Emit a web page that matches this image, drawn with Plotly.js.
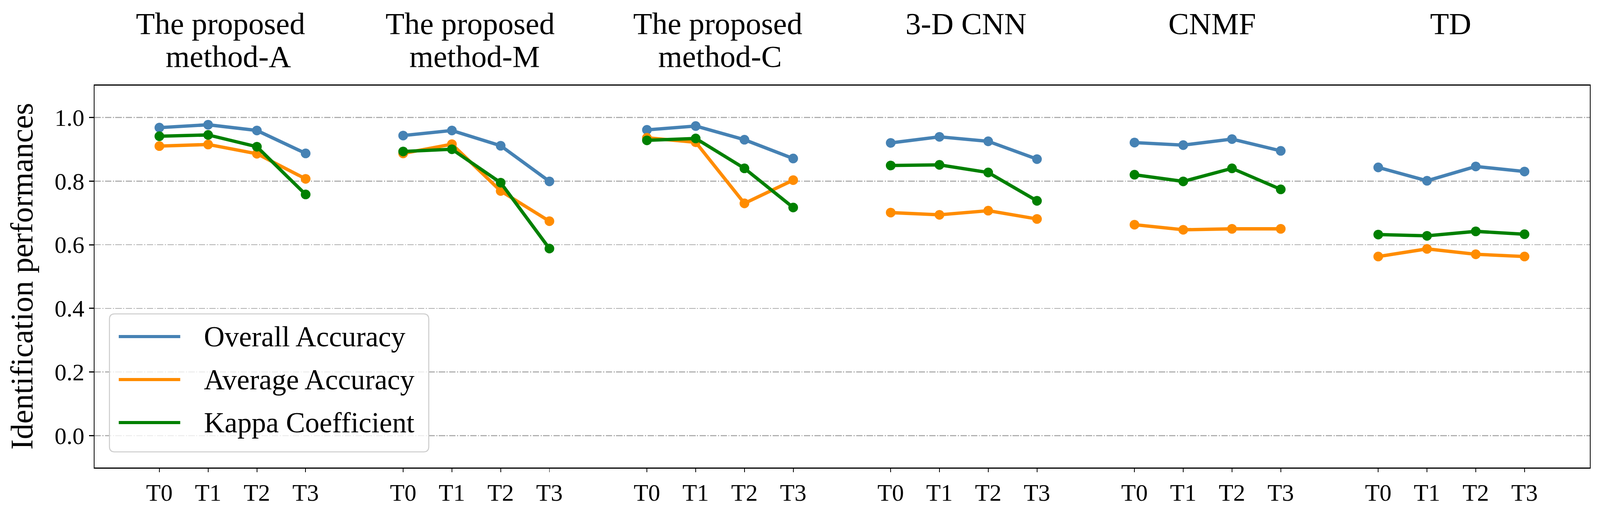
<!DOCTYPE html>
<html>
<head>
<meta charset="utf-8">
<script src="https://cdn.plot.ly/plotly-3.0.1.min.js"></script>
<style>html,body{margin:0;padding:0;background:#fff;overflow:hidden;}#chart{position:absolute;left:0;top:0;}</style>
</head>
<body>
<div id="chart"></div>
<script>
// ---- Data ----
const methods = ["The proposed method-A", "The proposed method-M", "The proposed method-C", "3-D CNN", "CNMF", "TD"];
const periods = ["T0", "T1", "T2", "T3"];
const seriesNames = ["Overall Accuracy", "Average Accuracy", "Kappa Coefficient"];
const overallAccuracy = [
  0.968, 0.977, 0.959, 0.887,
  0.943, 0.959, 0.911, 0.799,
  0.961, 0.973, 0.930, 0.871,
  0.920, 0.939, 0.925, 0.869,
  0.921, 0.913, 0.932, 0.895,
  0.843, 0.801, 0.846, 0.830
];
const averageAccuracy = [
  0.910, 0.915, 0.886, 0.807,
  0.887, 0.916, 0.769, 0.674,
  0.936, 0.922, 0.730, 0.803,
  0.701, 0.694, 0.707, 0.681,
  0.663, 0.647, 0.650, 0.650,
  0.563, 0.587, 0.570, 0.563
];
const kappaCoefficient = [
  0.941, 0.945, 0.908, 0.758,
  0.893, 0.900, 0.795, 0.588,
  0.928, 0.934, 0.840, 0.717,
  0.849, 0.851, 0.827, 0.738,
  0.820, 0.799, 0.840, 0.774,
  0.632, 0.628, 0.642, 0.633
];
const yTicks = [0.0, 0.2, 0.4, 0.6, 0.8, 1.0];

// ---- Geometry: designed in reference pixels (4294x1297), scaled to the viewport ----
const REF_W = 4294, REF_H = 1297;
const W = window.innerWidth || REF_W, H = window.innerHeight || REF_H;
const sx = W / REF_W, sy = H / REF_H, s = Math.min(sx, sy);
document.getElementById("chart").style.width = W + "px";
document.getElementById("chart").style.height = H + "px";

const colors = ["#4682B4", "#FF8C00", "#008000"];
const FONT = "Liberation Serif, Times New Roman, serif";
const M = {l: 254 * sx, r: 27 * sx, t: 219 * sy, b: 101 * sy};
const PW = W - M.l - M.r, PH = H - M.t - M.b;
const px = x => (x * sx - M.l) / PW;          // reference pixel -> paper x
const py = y => (H - M.b - y * sy) / PH;      // reference pixel -> paper y

const GROUP_STEP = 5;
function buildXY(vals) {
  const xs = [], ys = [];
  methods.forEach((m, g) => {
    periods.forEach((p, j) => {
      xs.push(g * GROUP_STEP + j);
      ys.push(vals[g * periods.length + j]);
    });
    if (g < methods.length - 1) { xs.push(null); ys.push(null); }
  });
  return {xs, ys};
}

const allSeries = [overallAccuracy, averageAccuracy, kappaCoefficient];
const traces = allSeries.map((vals, i) => {
  const d = buildXY(vals);
  return {
    type: "scatter", mode: "lines+markers", name: seriesNames[i],
    x: d.xs, y: d.ys, connectgaps: false,
    line: {color: colors[i], width: 9 * s},
    marker: {color: colors[i], size: 26 * s},
    showlegend: false, hoverinfo: "x+y"
  };
});

const tickvals = [], ticktext = [];
methods.forEach((m, g) => periods.forEach((p, j) => { tickvals.push(g * GROUP_STEP + j); ticktext.push(p); }));

// ---- Group titles ----
const annotations = [];
const titleLines = [
  [["The proposed", -32], ["method-A", -11]],
  [["The proposed", -17], ["method-M", -4]],
  [["The proposed", -6], ["method-C", 0]],
  [["3-D CNN", 6]],
  [["CNMF", 12]],
  [["TD", -2]]
];
const TITLE_FS = 83;
const lineBaselines = [89, 173.3];
titleLines.forEach((lines, g) => {
  const cx = g * GROUP_STEP + 1.5;
  lines.forEach((ln, k) => {
    annotations.push({
      text: ln[0], xref: "x", yref: "paper", x: cx, xshift: ln[1] * sx,
      y: py(lineBaselines[k] - 0.891 * TITLE_FS), yanchor: "top", xanchor: "center",
      showarrow: false, borderpad: 0,
      font: {family: FONT, size: TITLE_FS * s, color: "#000"}
    });
  });
});

// Y-axis title
annotations.push({
  text: "Identification performances", textangle: -90,
  xref: "paper", yref: "paper", x: px(58), y: py(707.5),
  xanchor: "center", yanchor: "middle", showarrow: false,
  font: {family: FONT, size: 84 * s, color: "#000"}
});

// ---- Custom legend (matplotlib style) ----
const shapes = [];
const LB = {x0: 294, y0: 803, x1: 1151, y1: 1156, r: 14};
{
  const rx = LB.r * sx / PW, ry = LB.r * sy / PH;
  const X0 = px(LB.x0), X1 = px(LB.x1), Y0 = py(LB.y1), Y1 = py(LB.y0);
  const path = `M ${X0 + rx},${Y0} L ${X1 - rx},${Y0} Q ${X1},${Y0} ${X1},${Y0 + ry} ` +
               `L ${X1},${Y1 - ry} Q ${X1},${Y1} ${X1 - rx},${Y1} L ${X0 + rx},${Y1} ` +
               `Q ${X0},${Y1} ${X0},${Y1 - ry} L ${X0},${Y0 + ry} Q ${X0},${Y0} ${X0 + rx},${Y0} Z`;
  shapes.push({type: "path", xref: "paper", yref: "paper", path: path,
    fillcolor: "rgba(255,255,255,0.8)", line: {color: "#cccccc", width: 2.7 * s}, layer: "above"});
}
const legendRows = [861, 971, 1081];
seriesNames.forEach((name, i) => {
  shapes.push({type: "line", xref: "paper", yref: "paper",
    x0: px(319), x1: px(484), y0: py(legendRows[i]), y1: py(legendRows[i]),
    line: {color: colors[i], width: 8.5 * s}, layer: "above"});
  annotations.push({text: name, xref: "paper", yref: "paper",
    x: px(546), y: py(legendRows[i]), xanchor: "left", yanchor: "middle",
    showarrow: false, borderpad: 0,
    font: {family: FONT, size: 77 * s, color: "#000"}});
});

const layout = {
  width: W, height: H,
  margin: M,
  paper_bgcolor: "#fff", plot_bgcolor: "#fff",
  font: {family: FONT, color: "#000"},
  showlegend: false,
  xaxis: {
    range: [-1.33, 29.34], tickmode: "array", tickvals: tickvals, ticktext: ticktext,
    showgrid: false, zeroline: false,
    showline: true, mirror: true, linecolor: "#000", linewidth: 2.7 * s,
    ticks: "outside", ticklen: 10 * s, tickwidth: 2 * s, tickcolor: "#000",
    tickfont: {family: FONT, size: 64 * s, color: "#000"}
  },
  yaxis: {
    range: [-0.1, 1.1], tickmode: "array", tickvals: yTicks,
    ticktext: yTicks.map(v => v.toFixed(1)),
    showgrid: true, gridcolor: "#b0b0b0", gridwidth: 2.7 * s,
    griddash: `${17 * s}px,${4 * s}px,${3 * s}px,${4 * s}px`,
    zeroline: false,
    showline: true, mirror: true, linecolor: "#000", linewidth: 2.5 * s,
    ticks: "outside", ticklen: 12 * s, tickwidth: 3 * s, tickcolor: "#000",
    tickfont: {family: FONT, size: 64 * s, color: "#000"}
  },
  annotations: annotations,
  shapes: shapes
};

Plotly.newPlot("chart", traces, layout, {staticPlot: true, displayModeBar: false});
</script>
</body>
</html>
